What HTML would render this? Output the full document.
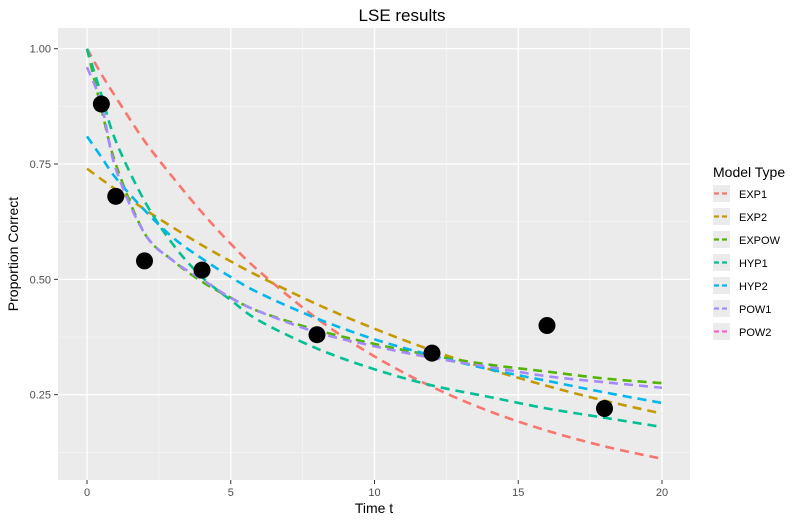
<!DOCTYPE html>
<html><head><meta charset="utf-8"><style>
body{margin:0;background:#fff;font-family:"Liberation Sans",sans-serif}
</style></head><body>
<svg id="chart" width="805" height="520" viewBox="0 0 805 520" xmlns="http://www.w3.org/2000/svg">
<rect width="805" height="520" fill="#fff"/>
<rect x="58" y="28" width="632" height="452" fill="#EBEBEB"/>
<g id="grid"></g><g id="lines"></g><g id="pts"></g><g id="axes"></g><g id="legend"></g>
<text x="402" y="21" font-size="17" text-anchor="middle" fill="#000">LSE results</text>
<text x="374" y="513" font-size="14" text-anchor="middle">Time t</text>
<text transform="translate(18,254) rotate(-90)" font-size="14" text-anchor="middle">Proportion Correct</text>
</svg>
<script>
const xTicks=[0,5,10,15,20];
const yTicks=[0.25,0.5,0.75,1.0];
const yTickLabels=["0.25","0.50","0.75","1.00"];
const tGrid=[0,0.5,1,2,3,4,5,6,8,10,12,14,16,18,20];
const exp1=[1.0,0.945,0.895,0.80,0.72,0.645,0.577,0.517,0.415,0.333,0.267,0.214,0.172,0.138,0.111];
const exp2=[0.74,0.717,0.695,0.652,0.612,0.574,0.539,0.506,0.446,0.393,0.346,0.305,0.269,0.237,0.209];
const expow=[1.0,0.87,0.75,0.60,0.54,0.495,0.46,0.43,0.39,0.36,0.335,0.315,0.30,0.285,0.275];
const hyp1=[1.0,0.90,0.80,0.67,0.575,0.505,0.455,0.41,0.35,0.305,0.27,0.245,0.22,0.20,0.18];
const hyp2=[0.81,0.765,0.72,0.65,0.59,0.545,0.505,0.47,0.415,0.37,0.335,0.305,0.28,0.255,0.232];
const pow1=[0.96,0.88,0.74,0.60,0.54,0.50,0.46,0.43,0.385,0.355,0.33,0.31,0.29,0.277,0.265];
const pow2=[0.96,0.88,0.74,0.60,0.54,0.50,0.46,0.43,0.385,0.355,0.33,0.31,0.29,0.277,0.265];
const seriesNames=["EXP1","EXP2","EXPOW","HYP1","HYP2","POW1","POW2"];
const seriesVals=[exp1,exp2,expow,hyp1,hyp2,pow1,pow2];
const colors=["#F8766D","#C49A00","#53B400","#00C094","#00B6EB","#A58AFF","#FB61D7"];
const obsT=[0.5,1,2,4,8,12,16,18];
const obsP=[0.88,0.68,0.54,0.52,0.38,0.34,0.40,0.22];
const NS="http://www.w3.org/2000/svg";
const X=t=>87+t*28.75, Y=p=>510-p*461.3;
function mk(tag,attrs,parent){const e=document.createElementNS(NS,tag);for(const k in attrs)e.setAttribute(k,attrs[k]);document.getElementById(parent).appendChild(e);return e;}
// minor grid
[2.5,7.5,12.5,17.5].forEach(v=>{const e=mk('line',{x1:X(v),x2:X(v),y1:28,y2:480,stroke:'#F5F5F5','stroke-width':0.8},'grid');

});
[0.125,0.375,0.625,0.875].forEach(v=>{const e=mk('line',{x1:58,x2:690,y1:Y(v),y2:Y(v),stroke:'#F5F5F5','stroke-width':0.8},'grid');

});
xTicks.forEach(v=>{const e=mk('line',{x1:X(v),x2:X(v),y1:28,y2:480,stroke:'#fff','stroke-width':1.3},'grid');


mk('line',{x1:X(v),x2:X(v),y1:480,y2:484,stroke:'#333'},'axes');
const t=mk('text',{x:X(v),y:496,'font-size':11,'text-anchor':'middle',fill:'#4D4D4D'},'axes');t.textContent=v;

});
yTicks.forEach((v,i)=>{const e=mk('line',{x1:58,x2:690,y1:Y(v),y2:Y(v),stroke:'#fff','stroke-width':1.3},'grid');


mk('line',{x1:54,x2:58,y1:Y(v),y2:Y(v),stroke:'#333'},'axes');
const t=mk('text',{x:51,y:Y(v)+4,'font-size':11,'text-anchor':'end',fill:'#4D4D4D'},'axes');t.textContent=yTickLabels[i];

});
// curves (monotone-ish Catmull-Rom)
function pathD(xs,ys){const P=xs.map((t,i)=>[X(t),Y(ys[i])]);let d='M'+P[0][0]+','+P[0][1];
for(let i=0;i<P.length-1;i++){const p0=P[Math.max(i-1,0)],p1=P[i],p2=P[i+1],p3=P[Math.min(i+2,P.length-1)];
const c1=[p1[0]+(p2[0]-p0[0])/6,p1[1]+(p2[1]-p0[1])/6],c2=[p2[0]-(p3[0]-p1[0])/6,p2[1]-(p3[1]-p1[1])/6];
d+=' C'+c1+' '+c2+' '+p2;}return d;}
seriesVals.forEach((vals,i)=>{if(i===6)return;const e=mk('path',{d:pathD(tGrid,vals),fill:'none',stroke:colors[i],'stroke-width':2.6,'stroke-dasharray':'9,6'},'lines');

});
obsT.forEach((t,i)=>{const c=mk('circle',{cx:X(t),cy:Y(obsP[i]),r:8.5,fill:'#000'},'pts');

});
// legend
const lt=mk('text',{x:713,y:177,'font-size':14},'legend');lt.textContent='Model Type';


seriesNames.forEach((n,i)=>{const y=185+i*23;
const g=mk('g',{},'legend');


const r=document.createElementNS(NS,'rect');r.setAttribute('x',713);r.setAttribute('y',y);r.setAttribute('width',17);r.setAttribute('height',17);r.setAttribute('fill','#EBEBEB');g.appendChild(r);
const l=document.createElementNS(NS,'line');l.setAttribute('x1',714);l.setAttribute('x2',729);l.setAttribute('y1',y+8.5);l.setAttribute('y2',y+8.5);l.setAttribute('stroke',colors[i]);l.setAttribute('stroke-width',2.2);l.setAttribute('stroke-dasharray','5,3');g.appendChild(l);
const t=document.createElementNS(NS,'text');t.setAttribute('x',739);t.setAttribute('y',y+13);t.setAttribute('font-size',11);t.textContent=n;g.appendChild(t);});
</script>
</body></html>
